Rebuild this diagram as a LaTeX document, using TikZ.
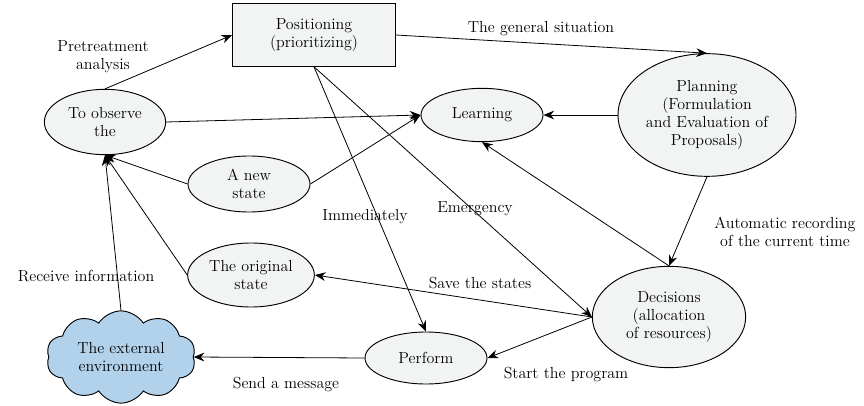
\documentclass[tikz,border=0pt]{standalone}
\usepackage{tikz}
\usetikzlibrary{shapes.geometric,shapes.symbols,arrows.meta}
\definecolor{nodegray}{RGB}{242,244,244}
\definecolor{cloudblue}{RGB}{178,210,236}

\begin{document}
\begin{tikzpicture}[x=0.75pt,y=-0.75pt,
  every node/.style={font=\fontsize{12}{13.5}\selectfont},
  oval/.style={ellipse,draw,fill=nodegray,inner sep=0pt,align=center,line width=0.7pt},
  box/.style={rectangle,draw,fill=nodegray,align=center,line width=0.7pt},
  sky/.style={cloud,cloud puffs=10,cloud puff arc=115,aspect=1.65,draw,fill=cloudblue,inner sep=0pt,align=center,line width=0.7pt},
  link/.style={-{Stealth[length=8pt,width=6.5pt]},line width=0.6pt}]
\useasboundingbox (0,0) rectangle (864,406);
% nodes
\node[box,minimum width=122pt,minimum height=47pt] (pos) at (314,35) {Positioning\\(prioritizing)};
\node[oval,minimum width=91pt,minimum height=49pt] (obs) at (105,122) {To observe\\the};
\node[oval,minimum width=91.5pt,minimum height=40pt] (learn) at (482,115) {Learning};
\node[oval,minimum width=133.5pt,minimum height=92pt] (plan) at (707,115) {Planning\\(Formulation\\and Evaluation of\\Proposals)};
\node[oval,minimum width=91.5pt,minimum height=42pt] (newst) at (249,184) {A new\\state};
\node[oval,minimum width=95pt,minimum height=48pt] (orig) at (251,275) {The original\\state};
\node[sky,minimum width=112pt,minimum height=68pt] (env) at (121,357) {The external\\environment};
\node[oval,minimum width=91.5pt,minimum height=39pt] (perf) at (426,358) {Perform};
\node[oval,minimum width=115pt,minimum height=76pt] (dec) at (669,317) {Decisions\\(allocation\\of resources)};
% connectors
\draw[link] (obs.north) -- (pos.west);
\draw[link] (pos.east) -- (plan.north);
\draw[link] (obs.east) -- (learn.west);
\draw[link] (plan.west) -- (learn.east);
\draw[link] (newst.west) -- (obs.south);
\draw[link] (newst.east) -- (learn.west);
\draw[link] (orig.west) -- (obs.south);
\draw[link] (env.north) -- (obs.south);
\draw[link] (pos.south) -- (perf.north);
\draw[link] (pos.south) -- (dec.west);
\draw[link] (dec.north) -- (learn.south);
\draw[link] (plan.south) -- (dec.north);
\draw[link] (dec.west) -- (orig.east);
\draw[link] (dec.west) -- (perf.east);
\draw[link] (perf.west) -- (env.east);
% labels
\node[align=center] (lpre) at (103,57) {Pretreatment\\analysis};
\node (lgen) at (541,29) {The general situation};
\node (limm) at (365,217) {Immediately};
\node (lemg) at (475,209) {Emergency};
\node[align=center] (lauto) at (785,232) {Automatic recording\\of the current time};
\node (lrec) at (86,276) {Receive information};
\node (lsave) at (480,283) {Save the states};
\node (lstart) at (566,375) {Start the program};
\node (lsend) at (286,385) {Send a message};
\end{tikzpicture}
\end{document}
